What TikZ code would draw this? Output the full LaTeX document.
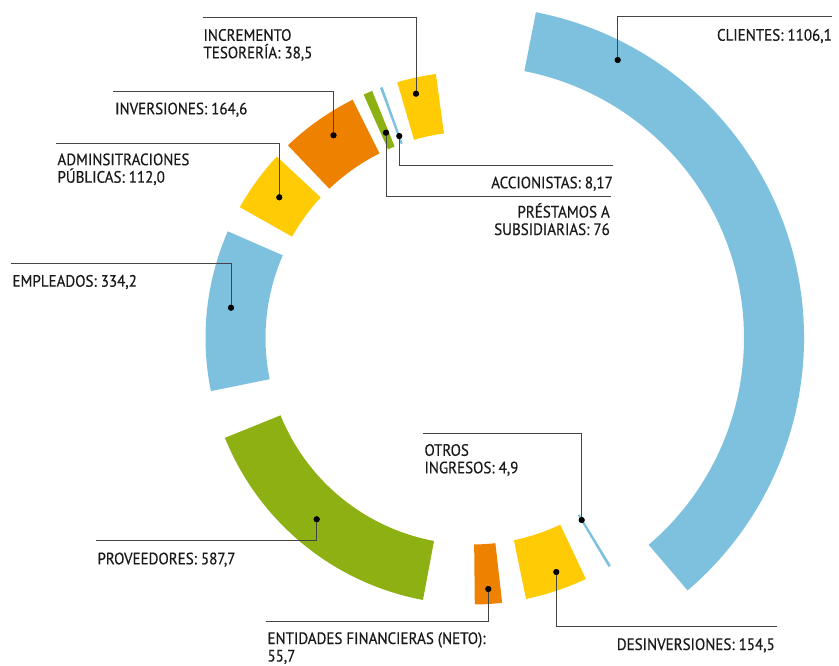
\documentclass[tikz,border=0pt]{standalone}
\usepackage{fontspec}
\setmainfont[FakeStretch=0.91,FakeBold=0.5]{PT Sans}
\definecolor{cblue}{HTML}{7DC1DF}
\definecolor{cgreen}{HTML}{8DB012}
\definecolor{corange}{HTML}{EE8200}
\definecolor{cyellow}{HTML}{FFCB05}
\definecolor{cline}{HTML}{444444}
\definecolor{ctext}{HTML}{1A1A1A}
\newcommand\ringseg[5]{%
  \fill[#1] ([shift={(C)}]#2:#4) arc[start angle=#2,end angle=#3,radius=#4]
    -- ([shift={(C)}]#3:#5) arc[start angle=#3,end angle=#2,radius=#5] -- cycle;}
\begin{document}
\begin{tikzpicture}[x=1pt,y=1pt,
  lbl/.style={inner sep=0pt,text=ctext,align=left,font=\fontsize{16.5}{17.5}\selectfont},
  lblr/.style={lbl,align=right},
  leader/.style={draw=cline,line width=1pt},
  dotm/.style={circle,fill=black,inner sep=0pt,minimum size=6pt}]
\useasboundingbox (0,0) rectangle (839,-665);
\coordinate (C) at (472,-338);
% segments
\ringseg{cblue}{-49.5}{78.9}{272}{332}
\ringseg{cyellow}{97.8}{106.3}{206.5}{266.5}
\ringseg{cblue}{109.6}{110.2}{206.5}{266.5}
\ringseg{cgreen}{112.0}{114.0}{206.5}{266.5}
\ringseg{corange}{116.6}{133.7}{206.5}{266.5}
\ringseg{cyellow}{137.1}{150.6}{206.5}{266.5}
\ringseg{cblue}{156.4}{191.5}{206.5}{266.5}
\ringseg{cgreen}{202.0}{259.4}{206.5}{266.5}
\ringseg{corange}{270.6}{276.5}{206.5}{266.5}
\ringseg{cyellow}{281.7}{295.3}{206.5}{266.5}
\ringseg{cblue}{300.8}{301.4}{206.5}{266.5}
% leader end points (dots)
\node[dotm] (dCli) at (617.7,-60) {};
\coordinate (eCli) at (832.3,-16.7);
\node[dotm] (dInc) at (416,-93.7) {};
\coordinate (eInc) at (202.7,-17.3);
\node[dotm] (dInv) at (333.5,-135.3) {};
\coordinate (eInv) at (113.3,-91);
\node[dotm] (dAdm) at (279.3,-197.3) {};
\coordinate (eAdm) at (56,-143.3);
\node[dotm] (dEmp) at (231,-307.7) {};
\coordinate (eEmp) at (10.7,-263.3);
\node[dotm] (dPro) at (316.7,-519.3) {};
\coordinate (ePro) at (96,-540.7);
\node[dotm] (dEnt) at (488.3,-589) {};
\coordinate (eEnt) at (265.7,-621.7);
\node[dotm] (dDes) at (556.3,-572) {};
\coordinate (eDes) at (776.7,-626.3);
\node[dotm] (dOtr) at (581.7,-520) {};
\coordinate (eOtr) at (423.3,-433.3);
\node[dotm] (dAcc) at (399.3,-136) {};
\coordinate (eAcc) at (613.3,-165);
\node[dotm] (dPre) at (386,-132.7) {};
\coordinate (ePre) at (610.7,-196);
% leaders
\draw[leader] (dCli.center) |- (eCli);
\draw[leader] (dInc.center) |- (eInc);
\draw[leader] (dInv.center) |- (eInv);
\draw[leader] (dAdm.center) |- (eAdm);
\draw[leader] (dEmp.center) |- (eEmp);
\draw[leader] (dPro.center) |- (ePro);
\draw[leader] (dEnt.center) |- (eEnt);
\draw[leader] (dDes.center) |- (eDes);
\draw[leader] (dOtr.center) |- (eOtr);
\draw[leader] (dAcc.center) |- (eAcc);
\draw[leader] (dPre.center) |- (ePre);
% redraw dots on top
\foreach \d in {dCli,dInc,dInv,dAdm,dEmp,dPro,dEnt,dDes,dOtr,dAcc,dPre}
  \fill (\d.center) circle (3pt);
% labels (base anchor = baseline of the last line)
\node[lblr,anchor=base east] (tCli) at (832,-40.7) {CLIENTES: 1106,1};
\node[lbl,anchor=base west] (tInc) at (203.3,-58.3) {INCREMENTO\\TESORERÍA: 38,5};
\node[lbl,anchor=base west] (tInv) at (115,-114.3) {INVERSIONES: 164,6};
\node[lbl,anchor=base west] (tAdm) at (57.3,-182.7) {ADMINSITRACIONES\\PÚBLICAS: 112,0};
\node[lbl,anchor=base west] (tEmp) at (12.3,-286.7) {EMPLEADOS: 334,2};
\node[lbl,anchor=base west] (tPro) at (97.3,-564.3) {PROVEEDORES: 587,7};
\node[lbl,anchor=base west] (tEnt) at (267.3,-661.5) {ENTIDADES FINANCIERAS (NETO):\\55,7};
\node[lblr,anchor=base east] (tDes) at (775,-650) {DESINVERSIONES: 154,5};
\node[lbl,anchor=base west] (tOtr) at (424.3,-473.3) {OTROS\\INGRESOS: 4,9};
\node[lblr,anchor=base east] (tAcc) at (613,-188.3) {ACCIONISTAS: 8,17};
\node[lblr,anchor=base east] (tPre) at (610,-235) {PRÉSTAMOS A\\SUBSIDIARIAS: 76};
\end{tikzpicture}
\end{document}
